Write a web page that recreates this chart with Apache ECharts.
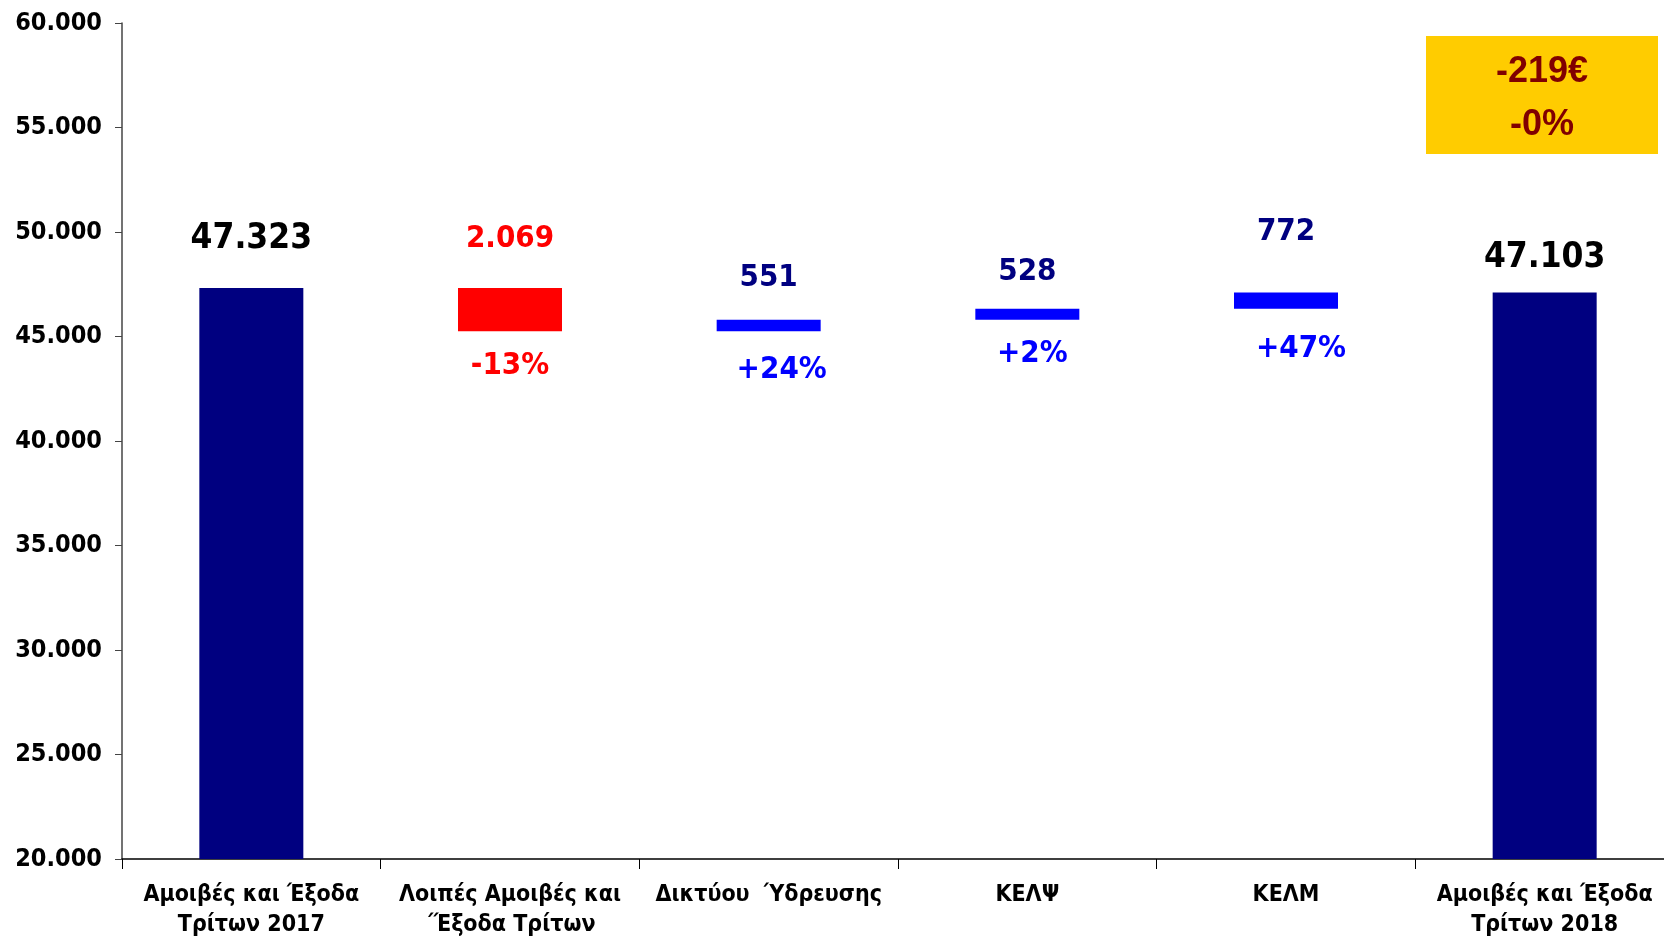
<!DOCTYPE html>
<html>
<head>
<meta charset="utf-8">
<script src="https://cdn.jsdelivr.net/npm/echarts@6/dist/echarts.min.js"></script>
<style>
html,body{margin:0;padding:0;background:#fff;}
#chart{width:1664px;height:936px;}
</style>
</head>
<body>
<div id="chart"></div>
<script>
// ---- DATA ----
const categories = [
  'Αμοιβές και Έξοδα\nΤρίτων 2017',
  'Λοιπές Αμοιβές και\n΄Έξοδα Τρίτων',
  'Δικτύου  Ύδρευσης',
  'ΚΕΛΨ',
  'ΚΕΛΜ',
  'Αμοιβές και Έξοδα\nΤρίτων 2018'
];
const startTotal = 47323;
const changes = [-2069, 551, 528, 772];
const endTotal = 47103;
const changePct = ['-13%', '+24%', '+2%', '+47%'];
const summaryLines = ['-219€', '-0%'];
const yTicks = { min: 20000, max: 60000, interval: 5000 };

// ---- STYLE ----
const F = '"DejaVu Sans Condensed","DejaVu Sans",sans-serif';
const fmt = n => String(Math.abs(n)).replace(/\B(?=(\d{3})+(?!\d))/g, '.');
const totalColor = '#000080', decColor = '#FF0000', incColor = '#0000FF';
// label nudges (distance above bar, distance below bar, x offset of pct label)
const topDist = [32, 33, 26, 21, 45, 17];
const botDist = [0, 19, 23, 19, 25, 0];
const pctDx = [0, 0, 13, 5, 15, 0];

// ---- BUILD ----
const base = [], vis = [];
let running = startTotal;
base.push(0);
vis.push({ value: startTotal, kind: 'total', text: fmt(startTotal) });
changes.forEach((c, i) => {
  if (c < 0) { base.push(running + c); } else { base.push(running); }
  vis.push({ value: Math.abs(c), kind: c < 0 ? 'dec' : 'inc', text: fmt(c) });
  running += c;
});
base.push(0);
vis.push({ value: endTotal, kind: 'total', text: fmt(endTotal) });

const visData = vis.map((d, i) => {
  const col = d.kind === 'total' ? totalColor : (d.kind === 'dec' ? decColor : incColor);
  const lcol = d.kind === 'total' ? '#000000' : (d.kind === 'dec' ? decColor : totalColor);
  return {
    value: d.value,
    itemStyle: { color: col },
    label: {
      show: true, position: 'top', distance: topDist[i],
      formatter: d.text, color: lcol,
      fontFamily: F, fontWeight: 'bold',
      fontSize: d.kind === 'total' ? 35 : 31, lineHeight: d.kind === 'total' ? 35 : 31
    }
  };
});
const baseData = base.map((b, i) => {
  const isChange = i > 0 && i <= changes.length;
  return {
    value: b,
    itemStyle: { color: 'rgba(0,0,0,0)' },
    label: isChange ? {
      show: true, position: 'insideTop', distance: botDist[i],
      offset: [pctDx[i], 0],
      formatter: changePct[i - 1],
      color: changes[i - 1] < 0 ? decColor : incColor,
      fontFamily: F, fontWeight: 'bold', fontSize: 31, lineHeight: 31
    } : { show: false }
  };
});

const chart = echarts.init(document.getElementById('chart'), null, { renderer: 'canvas' });
chart.setOption({
  animation: false,
  backgroundColor: '#ffffff',
  grid: { left: 122, right: -10, top: 23, bottom: 77, containLabel: false, outerBoundsMode: 'none' },
  xAxis: {
    type: 'category',
    data: categories,
    axisLine: { lineStyle: { color: '#000', width: 1.5 } },
    axisTick: { show: true, length: 10, alignWithLabel: false, lineStyle: { color: '#000' } },
    axisLabel: {
      color: '#000', fontFamily: F, fontWeight: 'bold', fontSize: 23, lineHeight: 30,
      margin: 21, interval: 0
    }
  },
  yAxis: {
    type: 'value',
    min: yTicks.min, max: yTicks.max, interval: yTicks.interval,
    splitLine: { show: false },
    axisLine: { show: true, lineStyle: { color: '#444', width: 1.5 } },
    axisTick: { show: true, length: 7, lineStyle: { color: '#444' } },
    axisLabel: {
      color: '#000', fontFamily: F, fontWeight: 'bold', fontSize: 25, margin: 20,
      formatter: v => fmt(v)
    }
  },
  series: [
    { type: 'bar', stack: 'w', data: baseData, barWidth: 104, silent: true },
    { type: 'bar', stack: 'w', data: visData, barWidth: 104 }
  ],
  graphic: [
    { type: 'rect', left: 1426, top: 36, shape: { width: 232, height: 118 }, style: { fill: '#FFCC00' } },
    { type: 'text', x: 1542, y: 72, style: { text: summaryLines[0], fill: '#800000', font: 'bold 36px "Liberation Sans", Arial, sans-serif', textAlign: 'center', textVerticalAlign: 'middle' } },
    { type: 'text', x: 1542, y: 125, style: { text: summaryLines[1], fill: '#800000', font: 'bold 36px "Liberation Sans", Arial, sans-serif', textAlign: 'center', textVerticalAlign: 'middle' } }
  ]
});
</script>
</body>
</html>
